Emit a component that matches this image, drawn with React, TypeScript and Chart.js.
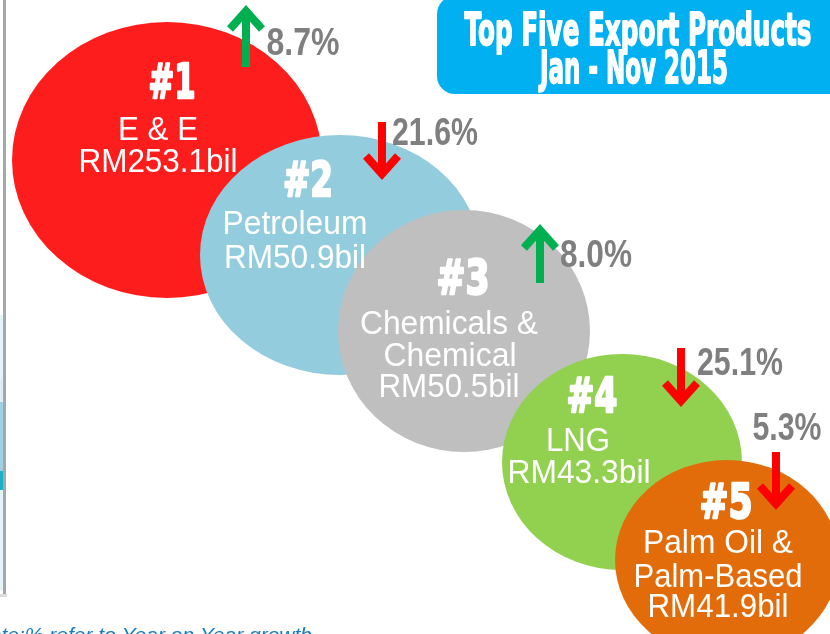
import React, { useEffect, useRef } from "react";
import { Chart, registerables } from "chart.js";
Chart.register(...registerables);

// ---- data ----
const ranks = ["#1", "#2", "#3", "#4", "#5"];
const productLines = [["E & E"], ["Petroleum"], ["Chemicals &", "Chemical"], ["LNG"], ["Palm Oil &", "Palm-Based"]];
const exportValues = [253.1, 50.9, 50.5, 43.3, 41.9]; // RM billion
const growthPct = [8.7, -21.6, 8.0, -25.1, -5.3]; // year-on-year
const titleLines = ["Top Five Export Products", "Jan - Nov 2015"];
const footnote = "Note:% refer to Year on Year growth";

// ---- layout (positions / sizes / styles) ----
const bubbleCenters = [
  { x: 167, y: 160 },
  { x: 340, y: 255 },
  { x: 464, y: 331 },
  { x: 622, y: 462 },
  { x: 727, y: 560 },
];
const bubbleRadii = [
  { rx: 155, ry: 138 },
  { rx: 140, ry: 120 },
  { rx: 126, ry: 121 },
  { rx: 120, ry: 108 },
  { rx: 112, ry: 100 },
];
const bubbleColors = ["#FE1D1D", "#93CDDD", "#BFBFBF", "#92D050", "#E36C0A"];
// [centerX, baseline, width] for rank, product lines, value
const rankPos = [[172, 98, 47], [308, 196, 50], [463, 294, 53], [592, 412, 51], [726, 518, 53]];
const linePos = [
  [[158, 140, 80]],
  [[295, 234, 145]],
  [[449, 334, 178], [450, 366, 133]],
  [[578, 451, 64]],
  [[718, 553, 150], [718, 587, 169]],
];
const valuePos = [[158, 172, 159], [295, 268, 142], [449, 397, 141], [579, 483, 143], [718, 617, 141]];
const growthPos = [[303, 55, 73], [435, 145, 86], [596, 267, 72], [740, 375, 86], [787, 440, 69]];
const arrowPos = [
  { x: 246, a: 7, b: 67 },
  { x: 382, a: 122, b: 178 },
  { x: 540, a: 226, b: 283 },
  { x: 681, a: 348, b: 405 },
  { x: 776, a: 452, b: 508 },
];

function fitText(
  ctx: CanvasRenderingContext2D,
  text: string,
  cx: number,
  baseline: number,
  width: number,
  font: string,
  thicken = 0
) {
  ctx.font = font;
  const w = ctx.measureText(text).width;
  ctx.save();
  ctx.translate(cx, baseline);
  ctx.scale(width / w, 1);
  ctx.textAlign = "center";
  ctx.textBaseline = "alphabetic";
  ctx.fillText(text, 0, 0);
  if (thicken > 0) {
    ctx.strokeStyle = ctx.fillStyle;
    ctx.lineWidth = thicken;
    ctx.lineJoin = "round";
    ctx.strokeText(text, 0, 0);
  }
  ctx.restore();
}

const infographic = {
  id: "infographic",
  afterDatasetsDraw(chart: any) {
    const ctx: CanvasRenderingContext2D = chart.ctx;
    const xs = chart.scales.x;
    const ys = chart.scales.y;
    const px = (v: number) => xs.getPixelForValue(v);
    const py = (v: number) => ys.getPixelForValue(v);
    const meta = chart.getDatasetMeta(0);
    ctx.save();

    // left-edge decoration
    ctx.fillStyle = "#E3F4F6";
    ctx.fillRect(0, 315, 4, 275);
    ctx.fillStyle = "#DDEFF4";
    ctx.fillRect(0, 380, 4, 22);
    ctx.fillStyle = "#9ECFE2";
    ctx.fillRect(0, 402, 4, 69);
    ctx.fillStyle = "#1BB1C7";
    ctx.fillRect(0, 471, 4, 19);
    ctx.fillStyle = "#A4A8AD";
    ctx.fillRect(3, 0, 3, 594);
    ctx.fillStyle = "#DCDCDC";
    ctx.fillRect(0, 594, 7, 3);

    // bubbles
    meta.data.forEach((pt: any, i: number) => {
      const c = bubbleCenters[i];
      const r = bubbleRadii[i];
      const rx = Math.abs(px(c.x + r.rx) - px(c.x));
      const ry = Math.abs(py(c.y + r.ry) - py(c.y));
      ctx.beginPath();
      ctx.ellipse(pt.x, pt.y, rx, ry, 0, 0, Math.PI * 2);
      ctx.fillStyle = bubbleColors[i];
      ctx.fill();
    });

    // bubble texts
    meta.data.forEach((_pt: any, i: number) => {
      ctx.fillStyle = "#FFFFFF";
      const rp = rankPos[i];
      fitText(ctx, ranks[i], px(rp[0]), py(rp[1]), rp[2], "bold 48px 'DejaVu Sans'", 2.5);
      productLines[i].forEach((ln, j) => {
        const lp = linePos[i][j];
        fitText(ctx, ln, px(lp[0]), py(lp[1]), lp[2], "34px 'Liberation Sans', Arial, sans-serif");
      });
      const vp = valuePos[i];
      fitText(ctx, `RM${exportValues[i].toFixed(1)}bil`, px(vp[0]), py(vp[1]), vp[2], "34px 'Liberation Sans', Arial, sans-serif");
    });

    // growth labels and arrows
    growthPct.forEach((g, i) => {
      const gp = growthPos[i];
      ctx.fillStyle = "#7F7F7F";
      fitText(ctx, `${Math.abs(g).toFixed(1)}%`, px(gp[0]), py(gp[1]), gp[2], "bold 38px 'Liberation Sans', Arial, sans-serif");
      const a = arrowPos[i];
      const up = g > 0;
      const color = up ? "#00B050" : "#FF0000";
      const x = px(a.x);
      const tip = up ? py(a.a) : py(a.b);
      const tail = up ? py(a.b) : py(a.a);
      ctx.strokeStyle = color;
      ctx.lineWidth = 8;
      ctx.lineCap = "butt";
      ctx.lineJoin = "miter";
      ctx.beginPath();
      ctx.moveTo(x, tail);
      ctx.lineTo(x, tip + (up ? 3 : -3));
      ctx.stroke();
      const d = up ? 20 : -20;
      ctx.beginPath();
      ctx.moveTo(x - 16, tip + d + (up ? 2 : -2));
      ctx.lineTo(x, tip + (up ? 4 : -4));
      ctx.lineTo(x + 16, tip + d + (up ? 2 : -2));
      ctx.stroke();
    });

    // title box
    ctx.fillStyle = "#00B0F0";
    ctx.beginPath();
    (ctx as any).roundRect(437, -4, 420, 98, 18);
    ctx.fill();
    ctx.fillStyle = "#FFFFFF";
    fitText(ctx, titleLines[0], 638, 45, 347, "bold 44px 'DejaVu Sans'", 1.8);
    fitText(ctx, titleLines[1], 634, 83, 188, "bold 45px 'DejaVu Sans'", 1.8);

    // footnote
    ctx.fillStyle = "#1B7CC0";
    ctx.font = "italic 21px 'Liberation Sans', Arial, sans-serif";
    ctx.textAlign = "right";
    ctx.textBaseline = "alphabetic";
    ctx.fillText(footnote, 312, 642);
    ctx.restore();
  },
};

export default function App() {
  const ref = useRef<HTMLCanvasElement | null>(null);
  useEffect(() => {
    if (!ref.current) return;
    const chart = new Chart(ref.current, {
      type: "scatter",
      data: {
        labels: productLines.map((l) => l.join(" ")),
        datasets: [
          {
            label: "Exports",
            data: bubbleCenters.map((c) => ({ x: c.x, y: c.y })),
            pointRadius: 0,
            pointHoverRadius: 0,
          },
        ],
      },
      options: {
        responsive: false,
        animation: false,
        events: [],
        layout: { padding: 0 },
        plugins: { legend: { display: false }, tooltip: { enabled: false }, title: { display: false } },
        scales: {
          x: { type: "linear", min: 0, max: 830, display: false },
          y: { type: "linear", min: 0, max: 634, reverse: true, display: false },
        },
      },
      plugins: [infographic],
    });
    return () => chart.destroy();
  }, []);
  return (
    <div style={{ position: "absolute", left: 0, top: 0, width: 830, height: 634, background: "#fff" }}>
      <canvas ref={ref} width={830} height={634} style={{ display: "block", width: 830, height: 634 }} />
    </div>
  );
}
